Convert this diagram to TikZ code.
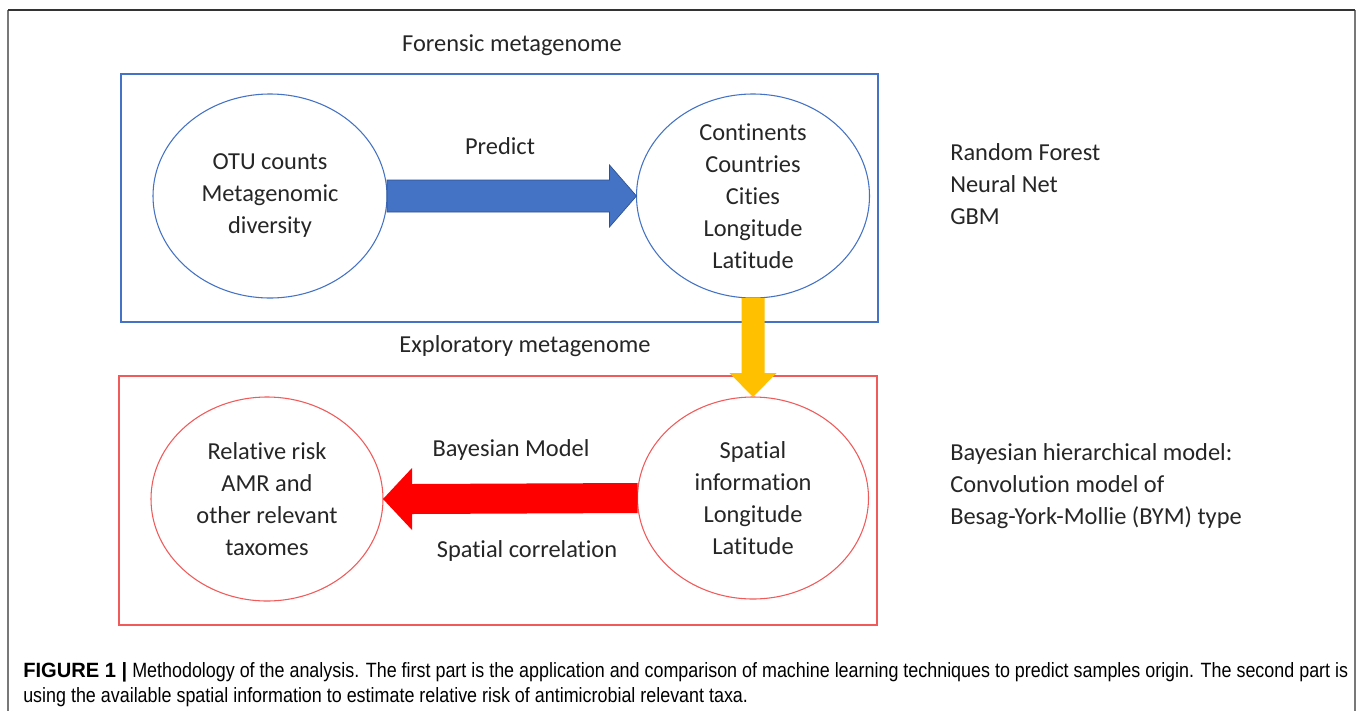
\documentclass[tikz,border=0pt]{standalone}
\usepackage{fontspec}
\setmainfont{Carlito}[Ligatures=NoCommon]
\newfontfamily\capfont{Liberation Sans}
\usetikzlibrary{shapes.geometric,calc}
\definecolor{offblue}{RGB}{68,114,196}
\definecolor{arrblue}{RGB}{68,114,196}
\definecolor{arrblueedge}{RGB}{47,82,143}
\definecolor{boxred}{RGB}{240,90,90}
\definecolor{arrred}{RGB}{255,0,0}
\definecolor{arryellow}{RGB}{255,192,0}
\definecolor{txt}{RGB}{38,38,38}
\definecolor{captxt}{RGB}{51,51,51}
\definecolor{framegray}{RGB}{120,120,120}
\newsavebox\capF
\newsavebox\capA
\newsavebox\capB
\begin{document}
\makeatletter
\sbox\capF{\capfont\fontsize{15.5}{18}\selectfont\bfseries FIGURE 1 |}%
\sbox\capA{\capfont\fontsize{15.5}{18}\selectfont Methodology of the analysis. The first part is the application and comparison of machine learning techniques to predict samples origin. The second part is}%
\sbox\capB{\capfont\fontsize{15.5}{18}\selectfont using the available spatial information to estimate relative risk of antimicrobial relevant taxa.}%
\edef\fscale{\strip@pt\dimexpr 78pt*65536/\wd\capF\relax}%
\edef\capscale{\strip@pt\dimexpr 912pt*65536/\wd\capA\relax}%
\makeatother
\begin{tikzpicture}[x=0.75pt,y=-0.75pt,
  dtext/.style={font=\fontsize{18.3}{24}\selectfont, text=txt, align=center, inner sep=0},
  sidetext/.style={font=\fontsize{18.3}{24}\selectfont, text=txt, align=left, anchor=west, inner sep=0},
  captext/.style={anchor=base west, inner sep=0, text=captxt},
  blueell/.style={ellipse, draw=offblue, line width=0.8pt, inner sep=0, outer sep=0},
  redell/.style={ellipse, draw=boxred, line width=0.8pt, inner sep=0, outer sep=0},
  bluebox/.style={draw=offblue, line width=1.1pt},
  redbox/.style={draw=boxred, line width=1.1pt}]
\useasboundingbox (0,0) rectangle (1360,711);
\fill[white] (0,0) rectangle (1360,711);
% outer frame
\draw[framegray, line width=1.5pt] (8,10) -- (8,711);
\draw[framegray, line width=1.5pt] (1355,10) -- (1355,711);
\draw[black!80, line width=1pt] (8,10) -- (1355,10);
% boxes
\draw[bluebox] (121,74) rectangle (878,322);
\draw[redbox] (119,376) rectangle (877,625);
% ellipses
\node[blueell, minimum width=234*0.75pt, minimum height=204*0.75pt] (otu) at (270,196) {};
\node[blueell, minimum width=233*0.75pt, minimum height=204*0.75pt] (cont) at (753,196) {};
\node[redell, minimum width=232*0.75pt, minimum height=204*0.75pt] (rr) at (267,499) {};
\node[redell, minimum width=231*0.75pt, minimum height=202*0.75pt] (sp) at (753,498) {};
% ellipse texts
\node[dtext] (otut) at (otu.center) {OTU counts\\Metagenomic\\diversity};
\node[dtext] (contt) at (cont.center) {Continents\\Countries\\Cities\\Longitude\\Latitude};
\node[dtext] (rrt) at (rr.center) {Relative risk\\AMR and\\other relevant\\taxomes};
\node[dtext] (spt) at (sp.center) {Spatial\\information\\Longitude\\Latitude};
% labels
\node[dtext] (forensic) at (512,45) {Forensic metagenome};
\node[dtext] (explor) at (525,346) {Exploratory metagenome};
\node[dtext] (predict) at (500,146) {Predict};
\node[dtext] (bayes) at (511,450) {Bayesian Model};
\node[dtext] (spcor) at (527,551) {Spatial correlation};
\node[sidetext] (ml) at (950,184) {Random Forest\\Neural Net\\GBM};
\node[sidetext] (bym) at (950,486) {Bayesian hierarchical model:\\Convolution model of\\Besag-York-Mollie (BYM) type};
% blue arrow
\filldraw[fill=arrblue, draw=arrblueedge, line width=0.5pt]
  ($(otu.east)+(0,-16)$) -- ($(cont.west)+(-27,-16)$) -- ($(cont.west)+(-27,-31)$) -- (cont.west)
  -- ($(cont.west)+(-27,31)$) -- ($(cont.west)+(-27,16)$) -- ($(otu.east)+(0,16)$) -- cycle;
% yellow arrow
\fill[arryellow]
  ($(cont.south)+(-11.5,0)$) -- ($(sp.north)+(-11.5,-24)$) -- ($(sp.north)+(-23.5,-24)$) -- (sp.north)
  -- ($(sp.north)+(23.5,-24)$) -- ($(sp.north)+(11.5,-24)$) -- ($(cont.south)+(11.5,0)$) -- cycle;
% red arrow
\fill[arrred]
  ($(sp.west)+(0,-15)$) -- ($(rr.east)+(29,-15)$) -- ($(rr.east)+(29,-31)$) -- (rr.east)
  -- ($(rr.east)+(29,31)$) -- ($(rr.east)+(29,15)$) -- ($(sp.west)+(0,15)$) -- cycle;
% caption
\node[captext] (cap0) at (23,677) {\scalebox{\fscale}[1]{\usebox\capF}};
\node[captext] (cap1) at (132,677) {\scalebox{\capscale}[1]{\usebox\capA}};
\node[captext] (cap2) at (23,702) {\scalebox{\capscale}[1]{\usebox\capB}};
\end{tikzpicture}
\end{document}
